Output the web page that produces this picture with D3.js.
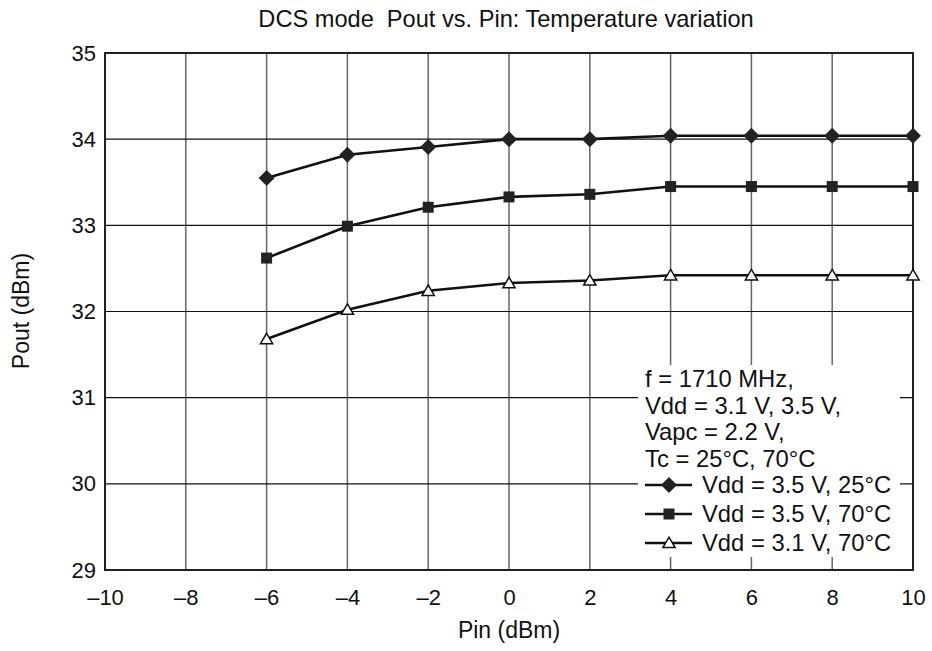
<!DOCTYPE html>
<html>
<head>
<meta charset="utf-8">
<script src="https://cdn.jsdelivr.net/npm/d3@7"></script>
<style>
body { margin: 0; background: #fff; }
text { font-family: "Liberation Sans", Arial, sans-serif; fill: #111; }
</style>
</head>
<body>
<svg id="chart" width="932" height="651"></svg>
<script>
var pin = [-6, -4, -2, 0, 2, 4, 6, 8, 10];
var vdd35_25 = [33.55, 33.82, 33.91, 34.0, 34.0, 34.04, 34.04, 34.04, 34.04];
var vdd35_70 = [32.62, 32.99, 33.21, 33.33, 33.36, 33.45, 33.45, 33.45, 33.45];
var vdd31_70 = [31.68, 32.02, 32.24, 32.33, 32.36, 32.42, 32.42, 32.42, 32.42];
var seriesNames = ["Vdd = 3.5 V, 25\u00b0C", "Vdd = 3.5 V, 70\u00b0C", "Vdd = 3.1 V, 70\u00b0C"];
var xTicks = [-10, -8, -6, -4, -2, 0, 2, 4, 6, 8, 10];
var yTicks = [29, 30, 31, 32, 33, 34, 35];
var noteLines = ["f = 1710 MHz,", "Vdd = 3.1 V, 3.5 V,", "Vapc = 2.2 V,", "Tc = 25\u00b0C, 70\u00b0C"];

var margin = {top: 53, right: 19, bottom: 81, left: 105};
var svg = d3.select("#chart");
var width = 932 - margin.left - margin.right;
var height = 651 - margin.top - margin.bottom;
var G = svg.append("g").attr("transform", "translate(" + margin.left + "," + margin.top + ")");

var xScale = d3.scaleLinear().domain([-10, 10]).range([0, width]);
var yScale = d3.scaleLinear().domain([29, 35]).range([height, 0]);

// marker shapes: square-ish diamond, square, triangle
var diamond = {draw: function(ctx, size) {
	var r = Math.sqrt(size / 2);
	ctx.moveTo(0, -r); ctx.lineTo(r, 0); ctx.lineTo(0, r); ctx.lineTo(-r, 0); ctx.closePath();
}};
var square = {draw: function(ctx, size) {
	var h = Math.sqrt(size) / 2;
	ctx.rect(-h, -h, h * 2, h * 2);
}};
var triangle = {draw: function(ctx, size) {
	var w = Math.sqrt(size) / 2;
	ctx.moveTo(0, -w * 0.95); ctx.lineTo(w, w * 0.75); ctx.lineTo(-w, w * 0.75); ctx.closePath();
}};

// grid
G.selectAll(".vgrid").data(xTicks).enter().append("line")
	.attr("x1", d => xScale(d)).attr("x2", d => xScale(d))
	.attr("y1", 0).attr("y2", height)
	.attr("stroke", "#666").attr("stroke-width", 1.5);
G.selectAll(".hgrid").data(yTicks).enter().append("line")
	.attr("x1", 0).attr("x2", width)
	.attr("y1", d => yScale(d)).attr("y2", d => yScale(d))
	.attr("stroke", "#111").attr("stroke-width", 1.2);

// legend background (covers grid)
var lx = 638 - margin.left, ly = 365 - margin.top;
G.append("rect").attr("x", lx).attr("y", ly)
	.attr("width", 262).attr("height", 192)
	.attr("fill", "#fff");

// frame
G.append("rect").attr("x", 0).attr("y", 0).attr("width", width).attr("height", height)
	.attr("fill", "none").attr("stroke", "#222").attr("stroke-width", 2);

// axes
var xAxis = d3.axisBottom(xScale).tickValues(xTicks).tickSize(0).tickPadding(19)
	.tickFormat(d => d < 0 ? "\u2013" + Math.abs(d) : d);
var yAxis = d3.axisLeft(yScale).tickValues(yTicks).tickSize(0).tickPadding(9)
	.tickFormat(d3.format("d"));
var gx = G.append("g").attr("transform", "translate(0," + height + ")").call(xAxis);
var gy = G.append("g").call(yAxis);
[gx, gy].forEach(function(g) {
	g.select(".domain").remove();
	g.selectAll("text").style("font-size", "22px").style("font-family", "Liberation Sans, Arial, sans-serif").attr("fill", "#111");
});

svg.append("text").attr("x", 506).attr("y", 27)
	.attr("xml:space", "preserve")
	.style("text-anchor", "middle").style("font-size", "23.6px")
	.text("DCS mode  Pout vs. Pin: Temperature variation");
svg.append("text").attr("x", 509).attr("y", 638)
	.style("text-anchor", "middle").style("font-size", "23px")
	.text("Pin (dBm)");
svg.append("text").attr("transform", "translate(29,311) rotate(-90)")
	.style("text-anchor", "middle").style("font-size", "23px")
	.text("Pout (dBm)");

// series
var allSeries = [vdd35_25, vdd35_70, vdd31_70];
var shapes = [diamond, square, triangle];
var sizes = [128, 121, 150];
var fills = ["#222", "#222", "#fff"];
var line = d3.line().x(d => xScale(d[0])).y(d => yScale(d[1]));

allSeries.forEach(function(vals, i) {
	var pts = pin.map((p, j) => [p, vals[j]]);
	G.append("path").datum(pts).attr("d", line)
		.attr("fill", "none").attr("stroke", "#111").attr("stroke-width", 2.6);
	G.selectAll(".pt" + i).data(pts).enter().append("path")
		.attr("transform", d => "translate(" + xScale(d[0]) + "," + yScale(d[1]) + ")")
		.attr("d", d3.symbol().type(shapes[i]).size(sizes[i]))
		.attr("fill", fills[i]).attr("stroke", "#111").attr("stroke-width", i == 2 ? 1.5 : 0);
});

// legend text
var tx = 645 - margin.left;
noteLines.forEach(function(t, i) {
	G.append("text").attr("x", tx).attr("y", 387 - margin.top + i * 26.7)
		.style("font-size", "23.8px").text(t);
});
for (var i = 0; i < seriesNames.length; i++) {
	var yy = 485 - margin.top + i * 29;
	G.append("line").attr("x1", tx).attr("x2", tx + 47).attr("y1", yy).attr("y2", yy)
		.attr("stroke", "#111").attr("stroke-width", 2.6);
	G.append("path").attr("transform", "translate(" + (tx + 24) + "," + yy + ")")
		.attr("d", d3.symbol().type(shapes[i]).size(sizes[i]))
		.attr("fill", fills[i]).attr("stroke", "#111").attr("stroke-width", i == 2 ? 1.5 : 0);
	G.append("text").attr("x", tx + 57).attr("y", yy + 8)
		.style("font-size", "23.8px").text(seriesNames[i]);
}
</script>
</body>
</html>
